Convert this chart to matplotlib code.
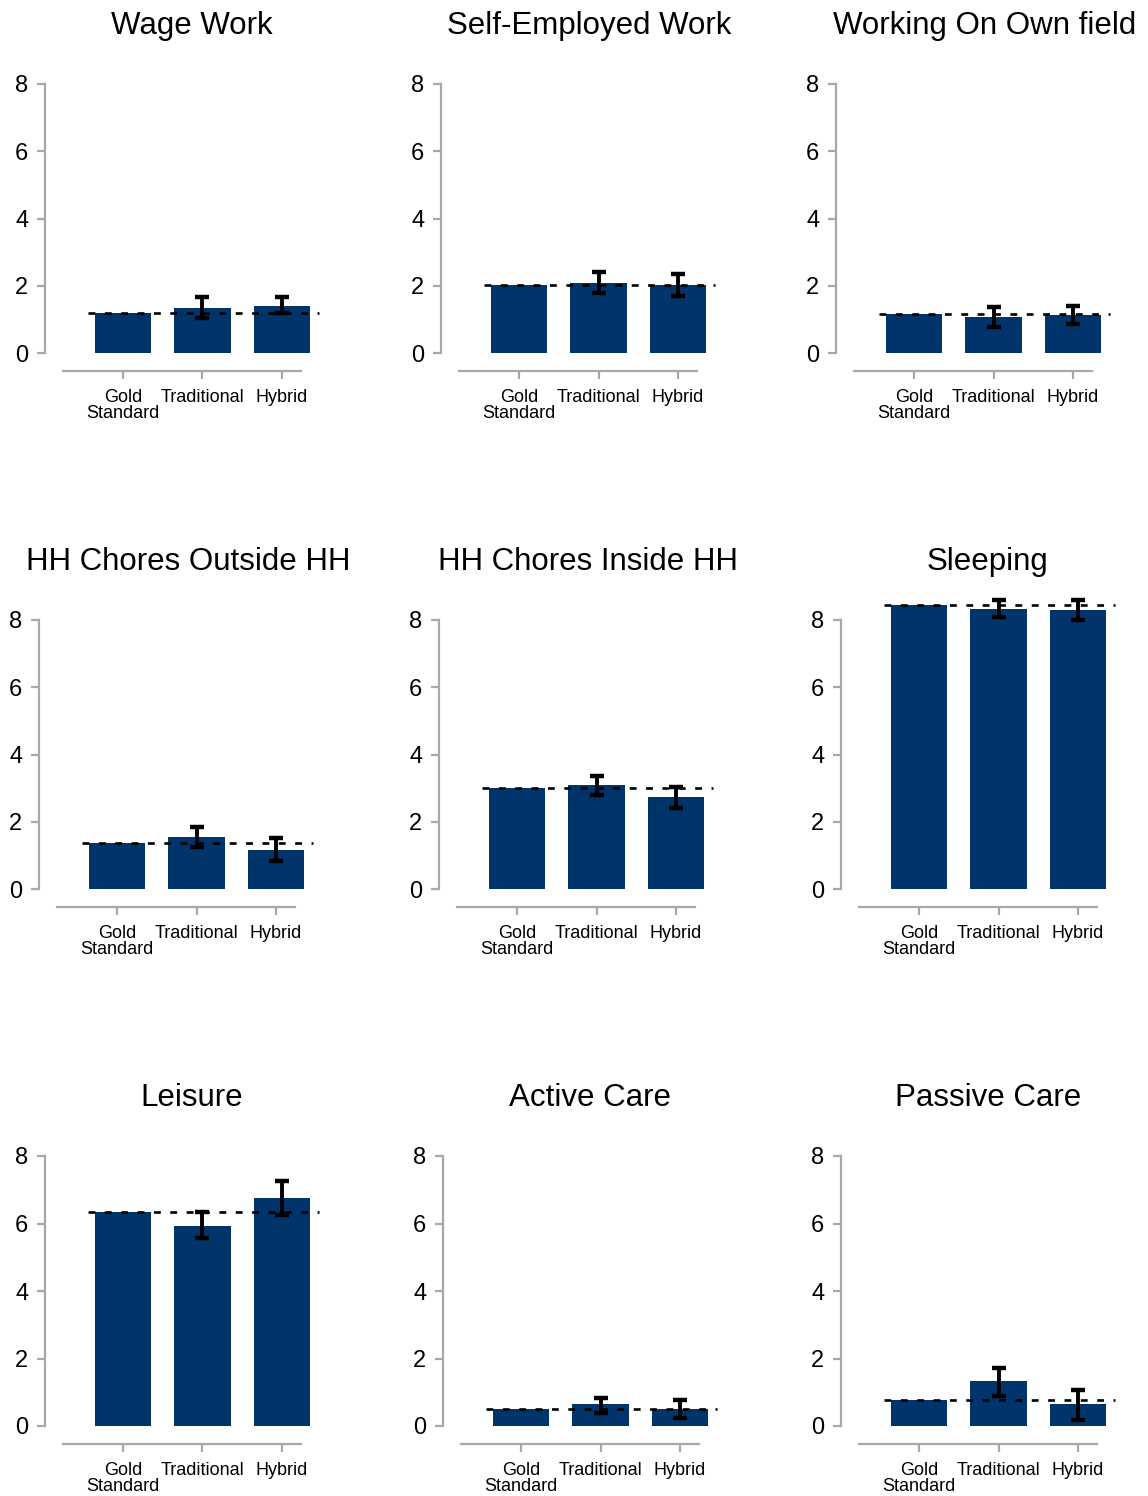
import matplotlib
matplotlib.use('Agg')
import matplotlib.pyplot as plt

plt.rcParams['font.family'] = ['Liberation Sans', 'DejaVu Sans']

#======= data (hours per day)
titles = ['Wage Work', 'Self-Employed Work', 'Working On Own field',
          'HH Chores Outside HH', 'HH Chores Inside HH', 'Sleeping',
          'Leisure', 'Active Care', 'Passive Care']
methods = ['Gold\nStandard', 'Traditional', 'Hybrid']

gold = [1.19, 2.02, 1.17, 1.36, 2.99, 8.44, 6.35, 0.49, 0.76]
trad = [1.33, 2.08, 1.07, 1.54, 3.08, 8.34, 5.93, 0.64, 1.32]
trad_lo = [1.05, 1.78, 0.78, 1.26, 2.80, 8.09, 5.57, 0.40, 0.89]
trad_hi = [1.66, 2.40, 1.36, 1.83, 3.37, 8.58, 6.33, 0.83, 1.71]
hyb = [1.40, 2.02, 1.14, 1.16, 2.74, 8.31, 6.75, 0.49, 0.64]
hyb_lo = [1.18, 1.70, 0.86, 0.84, 2.42, 8.01, 6.25, 0.24, 0.19]
hyb_hi = [1.66, 2.34, 1.41, 1.51, 3.04, 8.60, 7.26, 0.76, 1.08]

yticks = [0, 2, 4, 6, 8]

#======= layout (pixels)
W, H = 1148, 1496
row_zero = [353, 889, 1426]
row_eight = [84, 620, 1156]
first_center = [[123, 519, 914], [117, 517, 919], [123, 521, 919]]
title_x = [[192, 589, 985], [188, 588, 988], [192, 590, 988]]
sp = 79.5
xl, xr = -0.98, 2.5

navy = '#01346A'
grey = '#A8A8A8'

fig = plt.figure(figsize=(W / 100, H / 100), dpi=100)

for i in range(9):
    r, c = divmod(i, 3)
    c0 = first_center[r][c]
    left = c0 + xl * sp
    width = (xr - xl) * sp
    bottom = H - row_zero[r]
    height = row_zero[r] - row_eight[r]
    ax = fig.add_axes([left / W, bottom / H, width / W, height / H])

    vals = [gold[i], trad[i], hyb[i]]
    ax.bar([0, 1, 2], vals, width=0.705, color=navy, clip_on=False, zorder=2)
    mids = [trad[i], hyb[i]]
    lo = [trad[i] - trad_lo[i], hyb[i] - hyb_lo[i]]
    hi = [trad_hi[i] - trad[i], hyb_hi[i] - hyb[i]]
    ax.errorbar([1, 2], mids, yerr=[lo, hi], fmt='none', ecolor='black',
                elinewidth=2.8, capsize=5, capthick=3.2, clip_on=False, zorder=4)
    ax.plot([-0.44, 2.47], [gold[i], gold[i]], color='black', lw=1.9,
            linestyle=(0, (2.6, 3.6)), clip_on=False, zorder=3)

    ax.set_xlim(xl, xr)
    ax.set_ylim(0, 8)
    for s in ['top', 'right']:
        ax.spines[s].set_visible(False)
    ax.spines['left'].set_color(grey)
    ax.spines['left'].set_linewidth(1.6)
    ax.spines['bottom'].set_color(grey)
    ax.spines['bottom'].set_linewidth(1.6)
    ax.spines['bottom'].set_position(('outward', 13))
    ax.spines['bottom'].set_bounds(-0.75, 2.24)

    ax.set_yticks(yticks)
    ax.set_yticklabels([str(t) for t in yticks])
    ax.set_xticks([0, 1, 2])
    ax.set_xticklabels(methods, linespacing=0.95)
    ax.tick_params(axis='y', length=6, width=1.6, color=grey, labelsize=17, pad=6)
    ax.tick_params(axis='x', length=6, width=1.6, color=grey, labelsize=13, pad=7)
    ax.patch.set_alpha(0)

    fig.text(title_x[r][c] / W, 1 - (row_eight[r] - 50) / H, titles[i],
             ha='center', va='baseline', fontsize=22.5)

fig.savefig('out.png', dpi=100)
